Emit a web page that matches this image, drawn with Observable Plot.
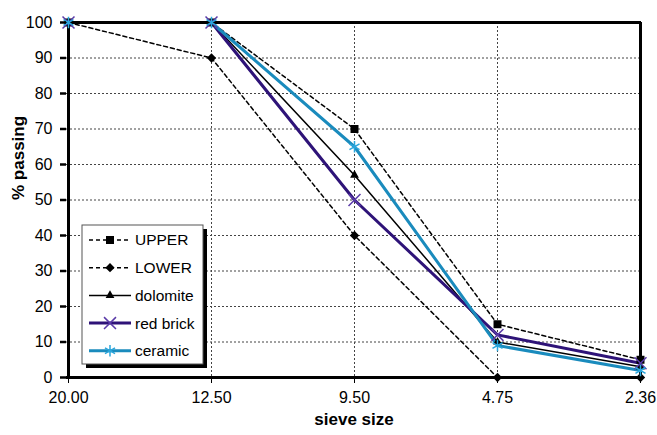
<!DOCTYPE html>
<html>
<head>
<meta charset="utf-8">
<script src="https://cdn.jsdelivr.net/npm/d3@7"></script>
<script src="https://cdn.jsdelivr.net/npm/@observablehq/plot@0.6"></script>
<style>
  html, body { margin: 0; padding: 0; background: #fff; }
  #chart { width: 657px; height: 435px; }
</style>
</head>
<body>
<div id="chart"></div>
<script>
// ---- data ----
const categories = ["20.00", "12.50", "9.50", "4.75", "2.36"];
const upper    = [100, 100, 70, 15, 5];
const lower    = [100, 90, 40, 0, 0];
const dolomite = [100, 100, 57, 10, 3];
const redBrick = [100, 100, 50, 12, 4];
const ceramic  = [100, 100, 65, 9, 2];
const yTicks = [0, 10, 20, 30, 40, 50, 60, 70, 80, 90, 100];
const seriesNames = ["UPPER", "LOWER", "dolomite", "red brick", "ceramic"];

const rows = categories.map((c, i) => ({
  cat: c, upper: upper[i], lower: lower[i], dolomite: dolomite[i],
  redBrick: redBrick[i], ceramic: ceramic[i]
}));

const styles = {
  "UPPER":     {key: "upper",    stroke: "#000", width: 1.5, dash: "4,3", symbol: "square",    r: 4.5, fill: "#000", mstroke: "none", mw: 0},
  "LOWER":     {key: "lower",    stroke: "#000", width: 1.5, dash: "4,3", symbol: "diamond2",  r: 4.2, fill: "#000", mstroke: "none", mw: 0},
  "dolomite":  {key: "dolomite", stroke: "#000", width: 1.5, dash: null,  symbol: "triangle2", r: 4.2, fill: "#000", mstroke: "none", mw: 0},
  "red brick": {key: "redBrick", stroke: "#2e1378", width: 3, dash: null, symbol: "times",     r: 5.5, fill: "none", mstroke: "#5a3aa8", mw: 1.5},
  "ceramic":   {key: "ceramic",  stroke: "#1a8bbd", width: 3, dash: null, symbol: "asterisk",  r: 5.5, fill: "none", mstroke: "#2aa6dc", mw: 1.5}
};

const gridStyle = {stroke: "#444", strokeOpacity: 1, strokeWidth: 1, strokeDasharray: "2,2"};

const marks = [
  Plot.gridY(yTicks.filter(d => d > 0 && d < 100), gridStyle),
  Plot.gridX(categories.slice(1, -1), gridStyle),
];
for (const name of seriesNames) {
  const s = styles[name];
  marks.push(Plot.line(rows, {x: "cat", y: s.key, stroke: s.stroke, strokeWidth: s.width,
    strokeDasharray: s.dash || undefined}));
}
// plot-area border (thick)
marks.push(
  Plot.ruleY([0, 100], {stroke: "#000", strokeWidth: 3}),
  Plot.ruleX([categories[0], categories[categories.length - 1]], {stroke: "#000", strokeWidth: 3})
);
for (const name of seriesNames) {
  const s = styles[name];
  marks.push(Plot.dot(rows, {x: "cat", y: s.key, symbol: () => s.symbol, r: s.r,
    fill: s.fill, stroke: s.mstroke, strokeWidth: s.mw}));
}
marks.push(
  Plot.axisY(yTicks, {tickSize: 6, tickPadding: 8, strokeWidth: 2.5, fontSize: 16, label: null}),
  Plot.axisX(categories, {tickSize: 6, tickPadding: 8, strokeWidth: 1, fontSize: 16, label: null}),
  Plot.text(["sieve size"], {frameAnchor: "bottom", dy: 47, text: d => d, fontWeight: "bold", fontSize: 17}),
  Plot.text(["% passing"], {frameAnchor: "left", dx: -48, rotate: -90, text: d => d, fontWeight: "bold", fontSize: 17})
);

const svg = Plot.plot({
  width: 657, height: 435,
  marginLeft: 66, marginRight: 16, marginTop: 22, marginBottom: 58,
  x: {type: "point", domain: categories, axis: null, padding: 0},
  y: {domain: [0, 100], axis: null},
  style: {fontFamily: "'Liberation Sans', Arial, sans-serif", fontSize: "16px", color: "#000", background: "#fff"},
  marks
});

// ---- legend ----
const g = d3.select(svg).append("g").attr("text-anchor", "start");
const lx = 82, ly = 225, lw = 121, lh = 139;
g.append("rect").attr("x", lx + 4).attr("y", ly + 4).attr("width", lw).attr("height", lh).attr("fill", "#000");
g.append("rect").attr("x", lx).attr("y", ly).attr("width", lw).attr("height", lh).attr("fill", "#fff").attr("stroke", "#555").attr("stroke-width", 1);
const d3sym = {square: d3.symbolSquare, diamond2: d3.symbolDiamond2, triangle2: d3.symbolTriangle2, times: d3.symbolTimes, asterisk: d3.symbolAsterisk};
seriesNames.forEach((name, i) => {
  const s = styles[name];
  const y = 240 + i * 27.7;
  g.append("line").attr("x1", 89).attr("x2", 131).attr("y1", y).attr("y2", y)
    .attr("stroke", s.stroke).attr("stroke-width", s.width).attr("stroke-dasharray", s.dash);
  g.append("path").attr("transform", `translate(110,${y})`)
    .attr("d", d3.symbol(d3sym[s.symbol], Math.PI * s.r * s.r)())
    .attr("fill", s.fill).attr("stroke", s.mstroke).attr("stroke-width", s.mw);
  g.append("text").attr("x", 135).attr("y", y).attr("dy", "0.35em").attr("text-anchor", "start")
    .attr("font-size", 15.5).attr("fill", "#000").text(name);
});

document.getElementById("chart").appendChild(svg);
</script>
</body>
</html>
